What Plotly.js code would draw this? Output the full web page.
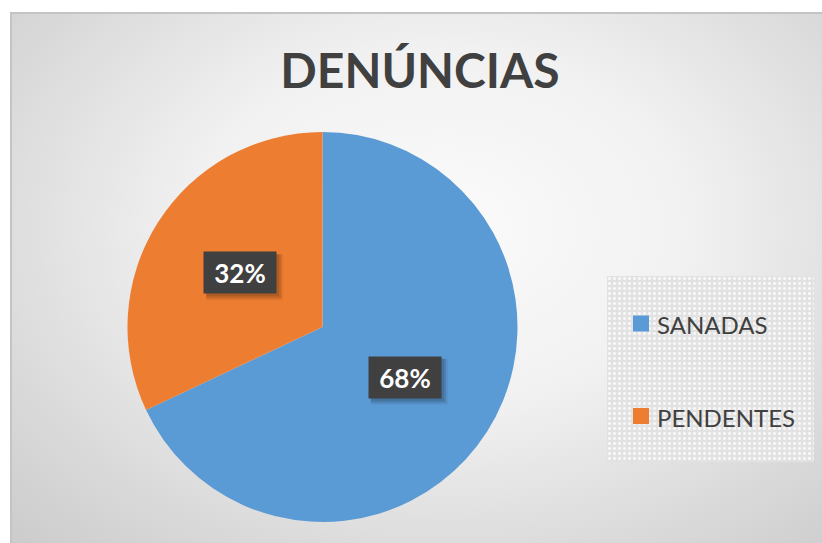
<!DOCTYPE html>
<html>
<head>
<meta charset="utf-8">
<script src="https://cdn.plot.ly/plotly-3.0.1.min.js"></script>
<style>
  html, body { margin: 0; padding: 0; background: #ffffff; }
  #wrap { position: relative; width: 822px; height: 543px; overflow: hidden; background: #ffffff; }
  #frame {
    position: absolute; left: 10px; top: 12px; width: 830px; height: 560px;
    border-top: 2px solid #c4c4c4; border-left: 2px solid #c4c4c4;
    background: radial-gradient(ellipse 75% 80% at 52% 38%, #fbfbfb 0%, #f1f1f1 40%, #dadada 75%, #cbcbcb 100%);
  }
  #legbox {
    position: absolute; left: 607px; top: 276px; width: 207px; height: 186px;
    background-color: #e2e2e2;
    background-image: radial-gradient(circle, rgba(255,255,255,0.75) 1.1px, rgba(255,255,255,0) 1.8px);
    background-size: 5px 5px;
  }
  #chart { position: absolute; left: 0; top: 0; width: 822px; height: 543px; }
</style>
</head>
<body>
<div id="wrap">
  <div id="frame"></div>
  <div id="legbox"></div>
  <div id="chart"></div>
</div>
<script>
// ---- data ----
var labels = ['SANADAS', 'PENDENTES'];
var values = [68, 32];
var colors = ['#5B9BD5', '#ED7D31'];
var chartTitle = 'DENÚNCIAS';

// ---- geometry (pixels) ----
var W = 822, H = 543;
var CX = 322.5, CY = 327, R = 195;
var BOXW = 72, BOXH = 41;
function px(x) { return x / W; }
function py(y) { return 1 - y / H; }

var total = values.reduce(function (a, b) { return a + b; }, 0);

var annotations = [];
var shapes = [];

// percentage label boxes placed at half radius along the mid angle of each slice
var cum = 0;
values.forEach(function (v, i) {
  var mid = (cum + v / 2) / total * 2 * Math.PI; // clockwise from 12 o'clock
  cum += v;
  var lx = CX + 0.5 * R * Math.sin(mid);
  var ly = CY - 0.5 * R * Math.cos(mid) - 2;
  var txt = Math.round(v / total * 100) + '%';
  // soft drop shadow (layered rects)
  [[3, 'rgba(0,0,0,0.10)'], [5, 'rgba(0,0,0,0.12)'], [7, 'rgba(0,0,0,0.06)']].forEach(function (s) {
    shapes.push({
      type: 'rect', xref: 'paper', yref: 'paper', layer: 'above',
      x0: px(lx - BOXW / 2 + 2), x1: px(lx + BOXW / 2 + s[0]),
      y0: py(ly + BOXH / 2 + s[0]), y1: py(ly - BOXH / 2 + 2),
      fillcolor: s[1], line: { width: 0 }
    });
  });
  annotations.push({
    xref: 'paper', yref: 'paper', x: px(lx), y: py(ly),
    xanchor: 'center', yanchor: 'middle',
    text: '<b>' + txt + '</b>', showarrow: false, width: BOXW - 2, height: BOXH - 2,
    borderpad: 1,
    bgcolor: '#404040', font: { family: 'Lato', size: 26, color: '#ffffff' }
  });
});

// custom legend
labels.forEach(function (lab, i) {
  var yc = 323.5 + i * 92.5;
  shapes.push({
    type: 'rect', xref: 'paper', yref: 'paper',
    x0: px(633), x1: px(649), y0: py(yc - 8), y1: py(yc + 8),
    fillcolor: colors[i], line: { width: 0 }
  });
  annotations.push({
    xref: 'paper', yref: 'paper', x: px(655), y: py(yc + 1),
    xanchor: 'left', yanchor: 'middle', showarrow: false,
    text: lab, font: { family: 'Lato', size: 24, color: '#404040' }
  });
});

var trace = {
  type: 'pie',
  labels: labels,
  values: values,
  marker: { colors: colors, line: { width: 0 } },
  sort: false,
  direction: 'clockwise',
  rotation: 0,
  textinfo: 'none',
  hoverinfo: 'label+percent',
  showlegend: false,
  domain: { x: [px(CX - R), px(CX + R)], y: [py(CY + R), py(CY - R)] }
};

var layout = {
  width: W, height: H,
  margin: { l: 0, r: 0, t: 0, b: 0 },
  paper_bgcolor: 'rgba(0,0,0,0)',
  plot_bgcolor: 'rgba(0,0,0,0)',
  showlegend: false,
  title: {
    text: '<b>' + chartTitle + '</b>',
    font: { family: 'Lato', size: 48, color: '#404040' },
    x: px(420), xanchor: 'center', xref: 'paper',
    y: py(71), yanchor: 'middle', yref: 'paper'
  },
  annotations: annotations,
  shapes: shapes
};

Plotly.newPlot('chart', [trace], layout, { displayModeBar: false, staticPlot: true });
</script>
</body>
</html>
